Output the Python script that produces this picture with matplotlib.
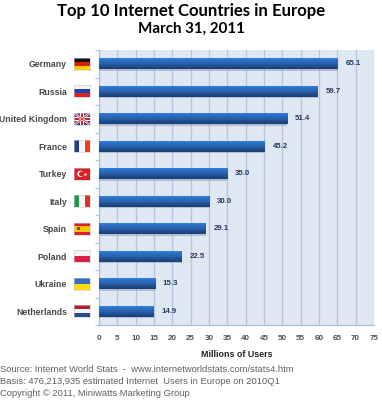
import numpy as np
import matplotlib
matplotlib.use("Agg")
import matplotlib.pyplot as plt
from matplotlib.colors import LinearSegmentedColormap
from matplotlib.patches import Circle, Rectangle

countries = ["Germany", "Russia", "United Kingdom", "France", "Turkey",
             "Italy", "Spain", "Poland", "Ukraine", "Netherlands"]
users = [65.1, 59.7, 51.4, 45.2, 35.0, 30.0, 29.1, 22.5, 15.3, 14.9]
x_ticks = list(range(0, 80, 5))

title_lines = ["Top 10 Internet Countries in Europe", "March 31, 2011"]
footer_lines = [
    "Source: Internet World Stats  -  www.internetworldstats.com/stats4.htm",
    "Basis: 476,213,935 estimated Internet  Users in Europe on 2010Q1",
    "Copyright © 2011, Miniwatts Marketing Group",
]

# stripes of each flag, top to bottom (or left to right for vertical ones)
flag_stripes = {
    "Germany": (["#111111", "#D81E05", "#FFCE00"], "h"),
    "Russia": (["#F4F4F4", "#2440A0", "#D8232A"], "h"),
    "France": (["#1F3F95", "#F6F6F6", "#EF3A24"], "v"),
    "Italy": (["#1E9A4B", "#F6F6F6", "#E0302E"], "v"),
    "Spain": (["#D8202A", "#F8C400", "#F8C400", "#D8202A"], "h"),
    "Poland": (["#F2F2F2", "#DC1F45"], "h"),
    "Ukraine": (["#2F6FC4", "#FFDD00"], "h"),
    "Netherlands": (["#B02030", "#F4F4F4", "#2A4A8C"], "h"),
}

W, H = 382, 400
fig = plt.figure(figsize=(W / 100, H / 100), dpi=100)
ax = fig.add_axes([99 / W, 1 - 325 / H, 275 / W, 275 / H])
ax.set_facecolor("#DEE7F2")

bar_cmap = LinearSegmentedColormap.from_list(
    "bar", ["#2F80DC", "#2A6CC0", "#2A62AC", "#1F4C8C", "#1B4078"])

y = np.arange(len(countries))
# soft shadow under the bars
ax.barh(y + 0.05, users, height=0.42, color="#8090A8", alpha=0.45, zorder=2)
bars = ax.barh(y, users, height=0.4, color="#2A62AC", zorder=3)
grad = np.linspace(0, 1, 32).reshape(-1, 1)
for b in bars:
    im = ax.imshow(grad, extent=(0, 75, b.get_y() + b.get_height(), b.get_y()),
                   cmap=bar_cmap, aspect="auto", zorder=4)
    im.set_clip_path(b)

ax.set_xlim(0, 75)
ax.set_ylim(9.5, -0.5)

ax.set_xticks(x_ticks)
ax.set_xticklabels(x_ticks, fontsize=5.8, fontweight="bold", color="#505050",
                   family="Liberation Sans")
ax.tick_params(axis="x", length=0, pad=7)
ax.grid(True, axis="x", color="#B0C6E2", linewidth=0.9, zorder=1)
ax.set_axisbelow(True)

ax.set_yticks(y)
ax.set_yticklabels(countries, fontsize=6.3, fontweight="bold", color="#484848",
                   family="Liberation Sans")
ax.tick_params(axis="y", length=0, pad=23)
ax.set_yticks(np.arange(-0.5, 10, 1), minor=True)
ax.tick_params(axis="y", which="minor", length=3, color="#B0C6E2", width=0.9)

for s in ["top", "right"]:
    ax.spines[s].set_visible(False)
for s in ["left", "bottom"]:
    ax.spines[s].set_color("#A9C1E0")
    ax.spines[s].set_linewidth(0.9)

for yi, v in zip(y, users):
    ax.annotate(f"{v:.1f}", (v, yi), xytext=(5.6, 0), textcoords="offset points",
                va="center", ha="left", fontsize=5.7, fontweight="bold",
                color="#28385F", family="Liberation Sans")

ax.set_xlabel("Millions of Users", fontsize=6.4, fontweight="bold", color="#222222",
              family="Liberation Sans", labelpad=6)

# flags, one small axes per row
for i, name in enumerate(countries):
    top = 58 + i * 27.47
    fa = fig.add_axes([74 / W, 1 - (top + 12) / H, 16 / W, 12 / H])
    fa.set_xlim(0, 16)
    fa.set_ylim(12, 0)
    fa.set_xticks([])
    fa.set_yticks([])
    for s in fa.spines.values():
        s.set_color("#C8C8C8")
        s.set_linewidth(0.4)
    if name in flag_stripes:
        cols, d = flag_stripes[name]
        n = len(cols)
        for j, c in enumerate(cols):
            if d == "h":
                fa.add_patch(Rectangle((0, j * 12 / n), 16, 12 / n, color=c, lw=0))
            else:
                fa.add_patch(Rectangle((j * 16 / n, 0), 16 / n, 12, color=c, lw=0))
        if name == "Spain":
            fa.add_patch(Rectangle((3, 4.5), 2.5, 3, color="#B03020", lw=0))
    elif name == "United Kingdom":
        fa.set_facecolor("#27408B")
        fa.plot([0, 16], [0, 12], color="white", lw=1.6)
        fa.plot([0, 16], [12, 0], color="white", lw=1.6)
        fa.plot([0, 16], [0, 12], color="#D0202A", lw=0.6)
        fa.plot([0, 16], [12, 0], color="#D0202A", lw=0.6)
        fa.add_patch(Rectangle((6, 0), 4, 12, color="white", lw=0))
        fa.add_patch(Rectangle((0, 4), 16, 4, color="white", lw=0))
        fa.add_patch(Rectangle((7, 0), 2, 12, color="#D0202A", lw=0))
        fa.add_patch(Rectangle((0, 5), 16, 2, color="#D0202A", lw=0))
    elif name == "Turkey":
        fa.set_facecolor("#DC1F26")
        fa.add_patch(Circle((6.5, 6), 3.2, color="white", lw=0))
        fa.add_patch(Circle((7.5, 6), 2.5, color="#DC1F26", lw=0))
        fa.plot([10.8], [6], marker="*", ms=3, color="white", mew=0)

for line, yc, size in zip(title_lines, [11, 29], [12.1, 10.9]):
    fig.text(191 / W, 1 - yc / H, line, ha="center", va="center", fontsize=size,
             fontweight="bold", family="Lato", color="black")

for line, yc in zip(footer_lines, [370, 381.5, 393]):
    fig.text(0.5 / W, 1 - yc / H, line, ha="left", va="center", fontsize=6.75,
             family="Liberation Sans", color="#606060")

fig.savefig("out.png", dpi=100)
